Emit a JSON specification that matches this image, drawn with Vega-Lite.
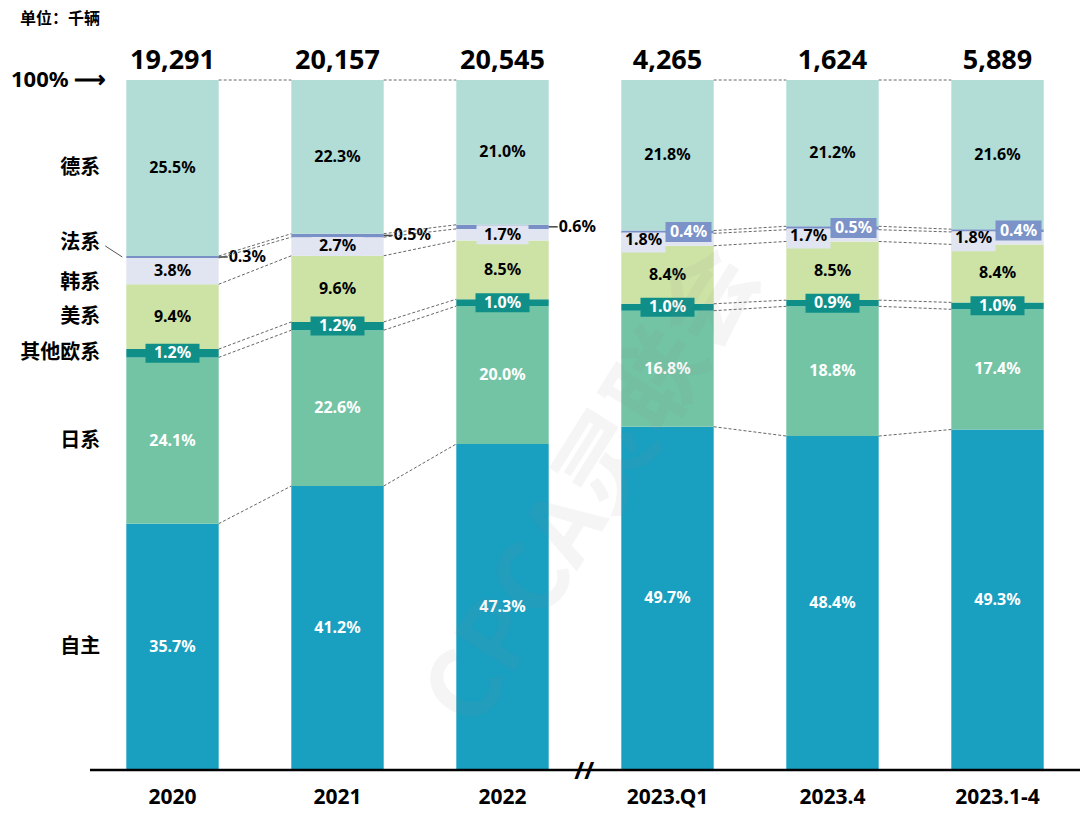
{
  "$schema": "https://vega.github.io/schema/vega-lite/v6.json",
  "width": 990,
  "height": 690,
  "autosize": "none",
  "padding": {"left": 90, "top": 80, "right": 0, "bottom": 47},
  "background": "white",
  "title": {
    "text": "单位：千辆",
    "anchor": "start",
    "frame": "group",
    "dx": -70,
    "offset": 20,
    "font": "Noto Sans CJK SC",
    "fontSize": 16,
    "fontWeight": "bold",
    "color": "black"
  },
  "config": {
    "view": {"stroke": null},
    "text": {"font": "Noto Sans", "fontWeight": "bold"}
  },
  "datasets": {
    "share": [
      {"period": "2020", "seq": 1, "grp": "A", "brand": "自主", "ord": 1, "pct": 35.7},
      {"period": "2020", "seq": 1, "grp": "A", "brand": "日系", "ord": 2, "pct": 24.1},
      {"period": "2020", "seq": 1, "grp": "A", "brand": "其他欧系", "ord": 3, "pct": 1.2},
      {"period": "2020", "seq": 1, "grp": "A", "brand": "美系", "ord": 4, "pct": 9.4},
      {"period": "2020", "seq": 1, "grp": "A", "brand": "韩系", "ord": 5, "pct": 3.8},
      {"period": "2020", "seq": 1, "grp": "A", "brand": "法系", "ord": 6, "pct": 0.3},
      {"period": "2020", "seq": 1, "grp": "A", "brand": "德系", "ord": 7, "pct": 25.5},
      {"period": "2021", "seq": 2, "grp": "A", "brand": "自主", "ord": 1, "pct": 41.2},
      {"period": "2021", "seq": 2, "grp": "A", "brand": "日系", "ord": 2, "pct": 22.6},
      {"period": "2021", "seq": 2, "grp": "A", "brand": "其他欧系", "ord": 3, "pct": 1.2},
      {"period": "2021", "seq": 2, "grp": "A", "brand": "美系", "ord": 4, "pct": 9.6},
      {"period": "2021", "seq": 2, "grp": "A", "brand": "韩系", "ord": 5, "pct": 2.7},
      {"period": "2021", "seq": 2, "grp": "A", "brand": "法系", "ord": 6, "pct": 0.5},
      {"period": "2021", "seq": 2, "grp": "A", "brand": "德系", "ord": 7, "pct": 22.3},
      {"period": "2022", "seq": 3, "grp": "A", "brand": "自主", "ord": 1, "pct": 47.3},
      {"period": "2022", "seq": 3, "grp": "A", "brand": "日系", "ord": 2, "pct": 20.0},
      {"period": "2022", "seq": 3, "grp": "A", "brand": "其他欧系", "ord": 3, "pct": 1.0},
      {"period": "2022", "seq": 3, "grp": "A", "brand": "美系", "ord": 4, "pct": 8.5},
      {"period": "2022", "seq": 3, "grp": "A", "brand": "韩系", "ord": 5, "pct": 1.7},
      {"period": "2022", "seq": 3, "grp": "A", "brand": "法系", "ord": 6, "pct": 0.6},
      {"period": "2022", "seq": 3, "grp": "A", "brand": "德系", "ord": 7, "pct": 21.0},
      {"period": "2023.Q1", "seq": 4, "grp": "B", "brand": "自主", "ord": 1, "pct": 49.7},
      {"period": "2023.Q1", "seq": 4, "grp": "B", "brand": "日系", "ord": 2, "pct": 16.8},
      {"period": "2023.Q1", "seq": 4, "grp": "B", "brand": "其他欧系", "ord": 3, "pct": 1.0},
      {"period": "2023.Q1", "seq": 4, "grp": "B", "brand": "美系", "ord": 4, "pct": 8.4},
      {"period": "2023.Q1", "seq": 4, "grp": "B", "brand": "韩系", "ord": 5, "pct": 1.8},
      {"period": "2023.Q1", "seq": 4, "grp": "B", "brand": "法系", "ord": 6, "pct": 0.4},
      {"period": "2023.Q1", "seq": 4, "grp": "B", "brand": "德系", "ord": 7, "pct": 21.8},
      {"period": "2023.4", "seq": 5, "grp": "B", "brand": "自主", "ord": 1, "pct": 48.4},
      {"period": "2023.4", "seq": 5, "grp": "B", "brand": "日系", "ord": 2, "pct": 18.8},
      {"period": "2023.4", "seq": 5, "grp": "B", "brand": "其他欧系", "ord": 3, "pct": 0.9},
      {"period": "2023.4", "seq": 5, "grp": "B", "brand": "美系", "ord": 4, "pct": 8.5},
      {"period": "2023.4", "seq": 5, "grp": "B", "brand": "韩系", "ord": 5, "pct": 1.7},
      {"period": "2023.4", "seq": 5, "grp": "B", "brand": "法系", "ord": 6, "pct": 0.5},
      {"period": "2023.4", "seq": 5, "grp": "B", "brand": "德系", "ord": 7, "pct": 21.2},
      {"period": "2023.1-4", "seq": 6, "grp": "B", "brand": "自主", "ord": 1, "pct": 49.3},
      {"period": "2023.1-4", "seq": 6, "grp": "B", "brand": "日系", "ord": 2, "pct": 17.4},
      {"period": "2023.1-4", "seq": 6, "grp": "B", "brand": "其他欧系", "ord": 3, "pct": 1.0},
      {"period": "2023.1-4", "seq": 6, "grp": "B", "brand": "美系", "ord": 4, "pct": 8.4},
      {"period": "2023.1-4", "seq": 6, "grp": "B", "brand": "韩系", "ord": 5, "pct": 1.8},
      {"period": "2023.1-4", "seq": 6, "grp": "B", "brand": "法系", "ord": 6, "pct": 0.4},
      {"period": "2023.1-4", "seq": 6, "grp": "B", "brand": "德系", "ord": 7, "pct": 21.6}
    ],
    "totals": [
      {"period": "2020", "total": 19291},
      {"period": "2021", "total": 20157},
      {"period": "2022", "total": 20545},
      {"period": "2023.Q1", "total": 4265},
      {"period": "2023.4", "total": 1624},
      {"period": "2023.1-4", "total": 5889}
    ]
  },
  "layer": [
    {
      "data": {"name": "share"},
      "transform": [
        {"window": [{"op": "sum", "field": "pct", "as": "cum"}], "groupby": ["period"], "sort": [{"field": "ord"}], "frame": [null, 0]},
        {"joinaggregate": [{"op": "sum", "field": "pct", "as": "tot"}], "groupby": ["period"]},
        {"calculate": "datum.cum / datum.tot", "as": "hi"},
        {"calculate": "(datum.cum - datum.pct) / datum.tot", "as": "lo"},
        {"calculate": "(datum.hi + datum.lo) / 2", "as": "mid"},
        {"calculate": "format(datum.pct, '.1f') + '%'", "as": "lbl"}
      ],
      "layer": [
        {
          "mark": {"type": "bar"},
          "encoding": {
            "x": {
              "field": "period", "type": "nominal",
              "scale": {"domain": ["2020", "2021", "2022", "2023.Q1", "2023.4", "2023.1-4"], "paddingInner": 0.44, "paddingOuter": 0.22},
              "axis": null
            },
            "y": {"field": "lo", "type": "quantitative", "scale": {"domain": [0, 1], "nice": false}, "axis": null},
            "y2": {"field": "hi"},
            "color": {
              "field": "brand", "type": "nominal", "legend": null,
              "scale": {
                "domain": ["自主", "日系", "其他欧系", "美系", "韩系", "法系", "德系"],
                "range": ["#199fc0", "#73c4a5", "#0f8f88", "#cde3a6", "#e1e5f1", "#7890c6", "#b2ddd6"]
              }
            }
          }
        },
        {
          "transform": [{"filter": "datum.brand == '自主' || datum.brand == '日系' || datum.brand == '美系' || datum.brand == '德系'"}],
          "mark": {"type": "text", "fontSize": 16},
          "encoding": {
            "x": {"field": "period", "type": "nominal", "axis": null},
            "y": {"field": "mid", "type": "quantitative"},
            "text": {"field": "lbl"},
            "color": {"condition": {"test": "datum.brand == '自主' || datum.brand == '日系'", "value": "white"}, "value": "black"}
          }
        },
        {
          "transform": [{"filter": "datum.brand == '其他欧系'"}],
          "mark": {"type": "tick", "orient": "horizontal", "size": 54, "thickness": 19, "color": "#0f8f88", "opacity": 1},
          "encoding": {
            "x": {"field": "period", "type": "nominal", "axis": null},
            "y": {"field": "mid", "type": "quantitative"}
          }
        },
        {
          "transform": [{"filter": "datum.brand == '其他欧系'"}],
          "mark": {"type": "text", "fontSize": 16, "color": "white"},
          "encoding": {
            "x": {"field": "period", "type": "nominal", "axis": null},
            "y": {"field": "mid", "type": "quantitative"},
            "text": {"field": "lbl"}
          }
        },
        {
          "transform": [{"filter": "datum.brand == '韩系' && datum.grp == 'A'"}],
          "mark": {"type": "tick", "orient": "horizontal", "size": 52, "thickness": 19, "color": "#e1e5f1", "opacity": 1},
          "encoding": {
            "x": {"field": "period", "type": "nominal", "axis": null},
            "y": {"field": "mid", "type": "quantitative"}
          }
        },
        {
          "transform": [{"filter": "datum.brand == '韩系' && datum.grp == 'A'"}],
          "mark": {"type": "text", "fontSize": 16, "color": "black"},
          "encoding": {
            "x": {"field": "period", "type": "nominal", "axis": null},
            "y": {"field": "mid", "type": "quantitative"},
            "text": {"field": "lbl"}
          }
        },
        {
          "transform": [{"filter": "datum.brand == '韩系' && datum.grp == 'B'"}],
          "mark": {"type": "tick", "orient": "horizontal", "size": 44, "thickness": 20, "color": "#e1e5f1", "opacity": 1, "xOffset": -24, "yOffset": 3},
          "encoding": {
            "x": {"field": "period", "type": "nominal", "axis": null},
            "y": {"field": "mid", "type": "quantitative"}
          }
        },
        {
          "transform": [{"filter": "datum.brand == '韩系' && datum.grp == 'B'"}],
          "mark": {"type": "text", "fontSize": 16, "color": "black", "dx": -24, "dy": 0},
          "encoding": {
            "x": {"field": "period", "type": "nominal", "axis": null},
            "y": {"field": "mid", "type": "quantitative"},
            "text": {"field": "lbl"}
          }
        },
        {
          "transform": [{"filter": "datum.brand == '法系' && datum.grp == 'B'"}],
          "mark": {"type": "tick", "orient": "horizontal", "size": 46, "thickness": 20, "color": "#7b93c8", "opacity": 1, "xOffset": 21},
          "encoding": {
            "x": {"field": "period", "type": "nominal", "axis": null},
            "y": {"field": "mid", "type": "quantitative"}
          }
        },
        {
          "transform": [{"filter": "datum.brand == '法系' && datum.grp == 'B'"}],
          "mark": {"type": "text", "fontSize": 16, "color": "white", "dx": 21},
          "encoding": {
            "x": {"field": "period", "type": "nominal", "axis": null},
            "y": {"field": "mid", "type": "quantitative"},
            "text": {"field": "lbl"}
          }
        },
        {
          "transform": [{"filter": "datum.brand == '法系' && datum.grp == 'A'"}],
          "mark": {"type": "rule", "color": "#444", "strokeWidth": 1.5, "x2Offset": 9},
          "encoding": {
            "x": {"field": "period", "type": "nominal", "bandPosition": 1, "axis": null},
            "x2": {"field": "period", "bandPosition": 1},
            "y": {"field": "mid", "type": "quantitative"}
          }
        },
        {
          "transform": [{"filter": "datum.brand == '法系' && datum.grp == 'A'"}],
          "mark": {"type": "text", "fontSize": 16, "color": "black", "align": "left", "dx": 10},
          "encoding": {
            "x": {"field": "period", "type": "nominal", "bandPosition": 1, "axis": null},
            "y": {"field": "mid", "type": "quantitative"},
            "text": {"field": "lbl"}
          }
        },
        {
          "transform": [{"filter": "datum.period == '2020' && datum.brand != '法系' && datum.brand != '韩系'"}],
          "mark": {"type": "text", "font": "Noto Sans CJK SC", "fontSize": 20, "color": "black", "align": "right", "dx": -26},
          "encoding": {
            "x": {"field": "period", "type": "nominal", "bandPosition": 0, "axis": null},
            "y": {"field": "mid", "type": "quantitative"},
            "text": {"field": "brand"}
          }
        },
        {
          "transform": [{"filter": "datum.period == '2020' && datum.brand == '韩系'"}],
          "mark": {"type": "text", "font": "Noto Sans CJK SC", "fontSize": 20, "color": "black", "align": "right", "dx": -26, "dy": 12},
          "encoding": {
            "x": {"field": "period", "type": "nominal", "bandPosition": 0, "axis": null},
            "y": {"field": "mid", "type": "quantitative"},
            "text": {"field": "brand"}
          }
        },
        {
          "transform": [{"filter": "datum.period == '2020' && datum.brand == '法系'"}],
          "mark": {"type": "text", "font": "Noto Sans CJK SC", "fontSize": 20, "color": "black", "align": "right", "dx": -26, "dy": -14},
          "encoding": {
            "x": {"field": "period", "type": "nominal", "bandPosition": 0, "axis": null},
            "y": {"field": "mid", "type": "quantitative"},
            "text": {"field": "brand"}
          }
        },
        {
          "transform": [{"filter": "datum.period == '2020' && datum.brand == '法系'"}],
          "mark": {"type": "rule", "color": "#555", "strokeWidth": 1, "xOffset": -21, "x2Offset": -4, "yOffset": -11, "y2Offset": 0},
          "encoding": {
            "x": {"field": "period", "type": "nominal", "bandPosition": 0, "axis": null},
            "x2": {"field": "period", "bandPosition": 0},
            "y": {"field": "mid", "type": "quantitative"},
            "y2": {"field": "mid"}
          }
        }
      ]
    },
    {
      "data": {"name": "share"},
      "transform": [
        {"window": [{"op": "sum", "field": "pct", "as": "cum"}], "groupby": ["period"], "sort": [{"field": "ord"}], "frame": [null, 0]},
        {"joinaggregate": [{"op": "sum", "field": "pct", "as": "tot"}], "groupby": ["period"]},
        {"calculate": "datum.cum / datum.tot", "as": "hi"},
        {"window": [{"op": "lead", "field": "hi", "as": "next_hi"}, {"op": "lead", "field": "period", "as": "next_period"}], "groupby": ["brand", "grp"], "sort": [{"field": "seq"}]},
        {"filter": "datum.next_period != null"}
      ],
      "mark": {"type": "rule", "color": "#555", "strokeWidth": 0.9, "strokeDash": [3, 2]},
      "encoding": {
        "x": {"field": "period", "type": "nominal", "bandPosition": 1, "axis": null},
        "x2": {"field": "next_period", "bandPosition": 0},
        "y": {"field": "hi", "type": "quantitative"},
        "y2": {"field": "next_hi"}
      }
    },
    {
      "data": {"values": [{"t": "baseline"}]},
      "mark": {"type": "rule", "color": "black", "strokeWidth": 2.5},
      "encoding": {
        "y": {"datum": 0, "type": "quantitative"}
      }
    },
    {
      "data": {"name": "totals"},
      "mark": {"type": "text", "fontSize": 27, "color": "black", "baseline": "middle", "dy": -19},
      "encoding": {
        "x": {"field": "period", "type": "nominal", "axis": null},
        "y": {"datum": 1, "type": "quantitative"},
        "text": {"field": "total", "type": "quantitative", "format": ","}
      }
    },
    {
      "data": {"name": "totals"},
      "mark": {"type": "text", "fontSize": 21, "color": "black", "baseline": "middle", "dy": 28},
      "encoding": {
        "x": {"field": "period", "type": "nominal", "axis": null},
        "y": {"datum": 0, "type": "quantitative"},
        "text": {"field": "period"}
      }
    },
    {
      "data": {"values": [{"t": "100% ⟶"}]},
      "mark": {"type": "text", "fontSize": 22, "color": "black", "align": "right", "dx": -20},
      "encoding": {
        "x": {"datum": "2020", "type": "nominal", "bandPosition": 0, "axis": null},
        "y": {"datum": 1, "type": "quantitative"},
        "text": {"field": "t"}
      }
    },
    {
      "data": {"values": [{"t": "//"}]},
      "mark": {"type": "text", "fontSize": 24, "color": "black", "dx": -37, "dy": 2},
      "encoding": {
        "x": {"datum": "2023.Q1", "type": "nominal", "bandPosition": 0, "axis": null},
        "y": {"datum": 0, "type": "quantitative"},
        "text": {"field": "t"}
      }
    },
    {
      "data": {"values": [{"t": "CPCA灵联会"}]},
      "mark": {"type": "text", "font": "Noto Sans CJK SC", "fontSize": 96, "fontWeight": "bold", "color": "#888", "opacity": 0.08, "angle": -58, "dx": -50},
      "encoding": {
        "x": {"datum": "2023.Q1", "type": "nominal", "bandPosition": 0, "axis": null},
        "y": {"datum": 0.47, "type": "quantitative"},
        "text": {"field": "t"}
      }
    }
  ]
}
